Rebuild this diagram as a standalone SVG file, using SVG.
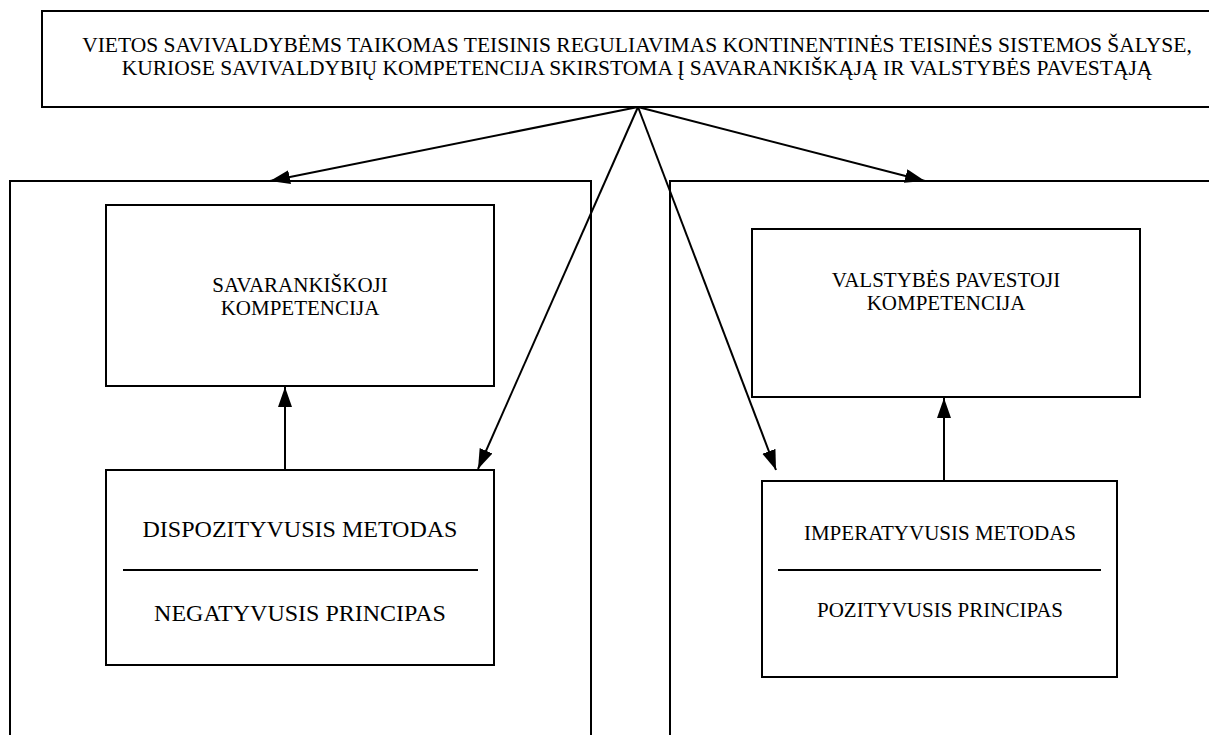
<svg xmlns="http://www.w3.org/2000/svg" width="1209" height="735" viewBox="0 0 1209 735">
<style>
.box{fill:none;stroke:#000;stroke-width:2}
.frame{fill:none;stroke:#000;stroke-width:2}
.t{font-family:"Liberation Serif","Times New Roman",serif;fill:#000;text-anchor:middle}
.conn{stroke:#000;stroke-width:2;fill:none;marker-end:url(#ah)}
.div{stroke:#000;stroke-width:2}
</style>
<defs>
<marker id="ah" markerUnits="userSpaceOnUse" markerWidth="22" markerHeight="16" refX="20" refY="7" orient="auto">
<path d="M0,0 L20,7 L0,14 z" fill="#000"/>
</marker>
</defs>
<rect width="1209" height="735" fill="#fff"/>
<g id="top">
<path class="box" d="M1212,11 H42 V107 H1212"/>
<text class="t" x="637" y="52" font-size="21.5">VIETOS SAVIVALDYBĖMS TAIKOMAS TEISINIS REGULIAVIMAS KONTINENTINĖS TEISINĖS SISTEMOS ŠALYSE,</text>
<text class="t" x="637" y="75" font-size="21.5">KURIOSE SAVIVALDYBIŲ KOMPETENCIJA SKIRSTOMA Į SAVARANKIŠKĄJĄ IR VALSTYBĖS PAVESTĄJĄ</text>
</g>
<g id="left-frame">
<path class="frame" d="M10,740 V181 H591 V740"/>
</g>
<g id="right-frame">
<path class="frame" d="M670,740 V181 H1212"/>
</g>
<g id="savarankiskoji">
<rect class="box" x="106" y="205" width="388" height="181"/>
<text class="t" x="300" y="292" font-size="21">SAVARANKIŠKOJI</text>
<text class="t" x="300" y="315" font-size="21">KOMPETENCIJA</text>
</g>
<g id="dispozityvusis">
<rect class="box" x="106" y="470" width="388" height="195"/>
<text class="t" x="300" y="537" font-size="24">DISPOZITYVUSIS METODAS</text>
<line class="div" x1="123" y1="570" x2="478" y2="570"/>
<text class="t" x="300" y="621" font-size="24">NEGATYVUSIS PRINCIPAS</text>
</g>
<g id="valstybes">
<rect class="box" x="752" y="229" width="388" height="168"/>
<text class="t" x="946" y="287" font-size="21">VALSTYBĖS PAVESTOJI</text>
<text class="t" x="946" y="310" font-size="21">KOMPETENCIJA</text>
</g>
<g id="imperatyvusis">
<rect class="box" x="762" y="481" width="355" height="196"/>
<text class="t" x="940" y="540" font-size="21">IMPERATYVUSIS METODAS</text>
<line class="div" x1="778" y1="570" x2="1101" y2="570"/>
<text class="t" x="940" y="617" font-size="21">POZITYVUSIS PRINCIPAS</text>
</g>
<g id="connectors">
<line class="conn" x1="638" y1="107" x2="270" y2="181"/>
<line class="conn" x1="638" y1="107" x2="925" y2="181"/>
<line class="conn" x1="638" y1="107" x2="478" y2="469"/>
<line class="conn" x1="638" y1="107" x2="776" y2="470"/>
<line class="conn" x1="285" y1="470" x2="285" y2="387"/>
<line class="conn" x1="944" y1="481" x2="944" y2="398"/>
</g>
</svg>
